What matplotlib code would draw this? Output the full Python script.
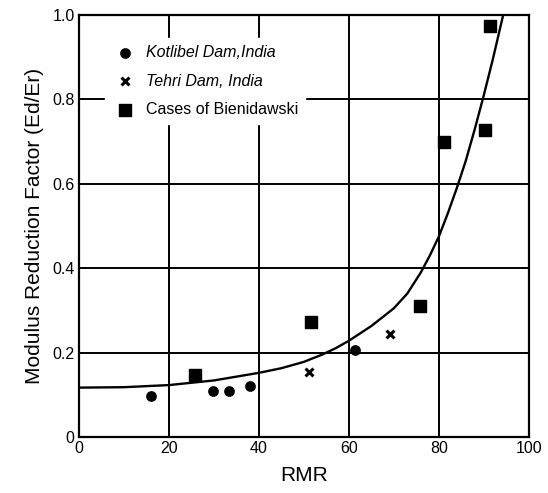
import matplotlib
matplotlib.use("Agg")
import matplotlib.pyplot as plt

plt.rcParams['font.family'] = ['Liberation Sans', 'DejaVu Sans']

# Kotlibel Dam, India
kot_rmr = [16.1, 29.7, 33.3, 38.1, 61.4]
kot_f = [0.098, 0.110, 0.110, 0.121, 0.207]

# Tehri Dam, India
teh_rmr = [51.2, 69.1]
teh_f = [0.155, 0.245]

# Cases of Bieniawski
bie_rmr = [25.7, 51.5, 75.9, 81.2, 90.3, 91.4]
bie_f = [0.148, 0.272, 0.31, 0.70, 0.727, 0.975]

# fitted curve
curve_rmr = [0, 10, 20, 30, 40, 45, 50, 54, 57, 60, 65, 70, 73, 76, 78, 80, 82, 84, 86, 88, 90, 92, 94.3]
curve_f = [0.117, 0.118, 0.123, 0.134, 0.152, 0.163, 0.178, 0.195, 0.21, 0.228, 0.263, 0.305,
           0.34, 0.39, 0.43, 0.475, 0.53, 0.59, 0.655, 0.73, 0.81, 0.895, 1.0]

xticks = [0, 20, 40, 60, 80, 100]
yticks = [0, 0.2, 0.4, 0.6, 0.8, 1.0]
yticklabels = ['0', '0.2', '0.4', '0.6', '0.8', '1.0']

fig = plt.figure(figsize=(5.48, 4.93), dpi=100)
ax = fig.add_axes([0.144, 0.1136, 0.821, 0.856])

ax.plot(curve_rmr, curve_f, color='black', lw=1.7, zorder=3)
ax.scatter(kot_rmr, kot_f, marker='o', s=45, color='black', zorder=4, label='Kotlibel Dam,India')
ax.scatter(teh_rmr, teh_f, marker='x', s=32, color='black', linewidths=2.2, zorder=4,
           label='Tehri Dam, India')
ax.scatter(bie_rmr, bie_f, marker='s', s=85, color='black', zorder=4, label='Cases of Bienidawski')

ax.set_xlim(0, 100)
ax.set_ylim(0, 1.0)
ax.set_xticks(xticks)
ax.set_yticks(yticks)
ax.set_yticklabels(yticklabels)
ax.tick_params(length=0, labelsize=11.5, pad=3)
ax.grid(True, color='black', lw=1.4)
ax.set_axisbelow(True)
for s in ax.spines.values():
    s.set_linewidth(1.6)

ax.set_xlabel('RMR', fontsize=15, labelpad=7)
ax.set_ylabel('Modulus Reduction Factor (Ed/Er)', fontsize=15, labelpad=6)

leg = ax.legend(loc='upper left', bbox_to_anchor=(0.04, 0.965), fontsize=11.5, frameon=True,
                fancybox=False, edgecolor='white', framealpha=1, handletextpad=0.5,
                handlelength=1.6, labelspacing=0.85, borderpad=0.45)
leg.set_zorder(5)
leg.get_texts()[0].set_style('italic')
leg.get_texts()[1].set_style('italic')

fig.savefig('out.png', dpi=100)
